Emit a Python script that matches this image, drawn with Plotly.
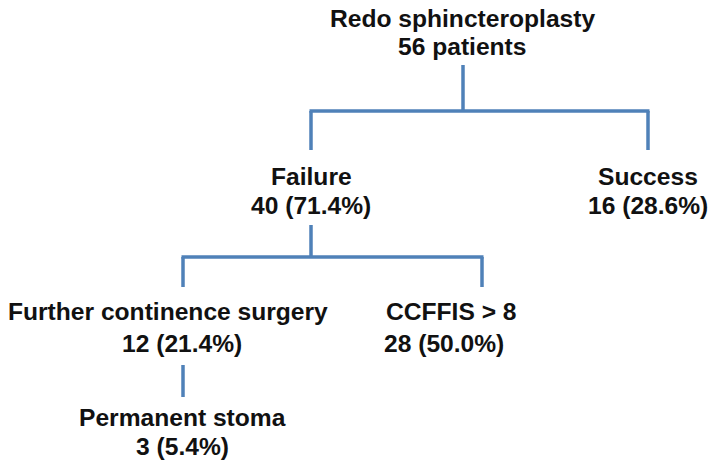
import plotly.graph_objects as go

# ---- data ----
labels = ["Redo sphincteroplasty", "Failure", "Success",
          "Further continence surgery", "CCFFIS > 8", "Permanent stoma"]
counts = [56, 40, 16, 12, 28, 3]
percents = [None, 71.4, 28.6, 21.4, 50.0, 5.4]
parents = [None, 0, 0, 1, 1, 3]

# ---- layout (pixel positions in the 720x465 window) ----
line1_pos = [(462, 18), (311, 176), (648, 176), (168, 311), (384, 311), (182, 417)]
line1_anchor = ["center", "center", "center", "center", "left", "center"]
line2_pos = [(462, 46), (311, 205), (648, 205), (182, 343), (382, 343), (182, 446)]
line2_anchor = ["center", "center", "center", "center", "left", "center"]
conn_x = [463, 311, 648, 183, 482, 183]
drop_top = {0: 65, 1: 225, 3: 365}      # y where parent's stem starts
bus_y = {0: 111, 1: 257}                # y of horizontal bus
child_top = {1: 150, 2: 150, 3: 287, 4: 287, 5: 397}

LINE_COLOR = "#4f81b8"
FONT = dict(family="Liberation Sans, Arial, sans-serif", size=24.6, color="#111111")

fig = go.Figure()

xs, ys = [], []
for p in sorted(set(x for x in parents if x is not None)):
    kids = [i for i, q in enumerate(parents) if q == p]
    if len(kids) == 1:
        k = kids[0]
        xs += [conn_x[p], conn_x[k], None]
        ys += [drop_top[p], child_top[k], None]
    else:
        b = bus_y[p]
        xs += [conn_x[p], conn_x[p], None]
        ys += [drop_top[p], b, None]
        kx = [conn_x[k] for k in kids]
        xs += [min(kx) - 1.5, max(kx) + 1.5, None]
        ys += [b, b, None]
        for k in kids:
            xs += [conn_x[k], conn_x[k], None]
            ys += [b, child_top[k], None]

fig.add_trace(go.Scatter(x=xs, y=ys, mode="lines",
                         line=dict(color=LINE_COLOR, width=3.5),
                         hoverinfo="skip", showlegend=False))

for i, lab in enumerate(labels):
    if percents[i] is None:
        second = f"{counts[i]} patients"
    else:
        second = f"{counts[i]} ({percents[i]:.1f}%)"
    for text, (x, y), anc in [(lab, line1_pos[i], line1_anchor[i]),
                              (second, line2_pos[i], line2_anchor[i])]:
        fig.add_annotation(x=x, y=y, xref="x", yref="y", text=f"<b>{text}</b>",
                           showarrow=False, xanchor=anc, yanchor="middle",
                           font=FONT)

W, H = 720, 465
fig.update_layout(
    width=W, height=H,
    margin=dict(l=0, r=0, t=0, b=0),
    paper_bgcolor="white", plot_bgcolor="white",
    hovermode=False,
    xaxis=dict(range=[0, W], visible=False, fixedrange=True),
    yaxis=dict(range=[H, 0], visible=False, fixedrange=True),
)

fig.write_html("out.html",
               config={"displayModeBar": False, "staticPlot": True},
               post_script="document.body.style.margin='0';"
                           "document.body.style.overflow='hidden';")
